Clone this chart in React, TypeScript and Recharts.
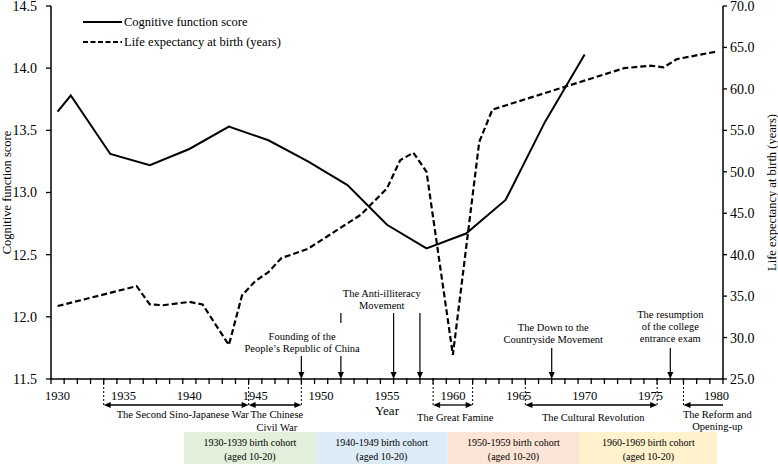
import React from 'react';
import {
  ComposedChart,
  Line,
  XAxis,
  YAxis,
  ReferenceLine,
  ReferenceDot,
  ReferenceArea,
  Legend,
} from 'recharts';

const FONT = '"Liberation Serif", "Times New Roman", Times, serif';

// ---------- data ----------
const seriesNames = ['Cognitive function score', 'Life expectancy at birth (years)'];

const cogYears = [1930, 1931, 1934, 1937, 1940, 1943, 1946, 1949, 1952, 1955, 1958, 1961, 1964, 1967, 1970];
const cogScores = [13.65, 13.78, 13.31, 13.22, 13.35, 13.53, 13.42, 13.25, 13.06, 12.74, 12.55, 12.67, 12.94, 13.57, 14.11];

const leYears = [1930, 1936, 1937, 1938, 1940, 1941, 1943, 1944, 1945, 1946, 1947, 1949, 1953, 1955, 1956, 1957, 1958, 1960, 1962, 1963, 1973, 1975, 1976, 1977, 1980];
const leValues = [33.8, 36.2, 34.0, 33.9, 34.3, 34.0, 29.1, 35.1, 36.8, 37.9, 39.6, 40.7, 44.8, 48.0, 51.4, 52.3, 50.0, 27.9, 53.6, 57.5, 62.5, 62.8, 62.6, 63.6, 64.5];

const xTickLabels = [1930, 1935, 1940, 1945, 1950, 1955, 1960, 1965, 1970, 1975, 1980];
const leftTicks = [11.5, 12.0, 12.5, 13.0, 13.5, 14.0, 14.5];
const rightTicks = [25, 30, 35, 40, 45, 50, 55, 60, 65, 70];

// historical events (arrow pointing down to the year axis)
const eventArrowYears = [1948.5, 1951.5, 1955.5, 1957.5, 1967.5, 1976.5];
const eventArrowTops = [11.685, 11.685, 12.031, 12.031, 11.749, 11.749];

const eventNotes = [
  { lines: ['Founding of the', 'People\u2019s Republic of China'], year: 1948.56, score: 11.846 },
  { lines: ['The Anti-illiteracy', 'Movement'], year: 1954.6, score: 12.192 },
  { lines: ['The Down to the', 'Countryside Movement'], year: 1967.62, score: 11.918 },
  { lines: ['The resumption', 'of the college', 'entrance exam'], year: 1976.5, score: 12.023 },
];

// historical periods (below the axis)
const periodNames = [
  ['The Second Sino-Japanese War'],
  ['The Chinese', 'Civil War'],
  ['The Great Famine'],
  ['The Cultural Revolution'],
  ['The Reform and', 'Opening-up'],
];
const periodStart = [1933.5, 1944.5, 1958.5, 1965.5, 1977.5];
const periodEnd = [1944.5, 1948.5, 1961.5, 1975.5, 1980.5];
const periodLabelYear = [1939.5, 1946.64, 1960.18, 1970.65, 1980.07];
const periodLabelScore = [11.213, 11.213, 11.194, 11.194, 11.218];
const periodTwoHeads = [true, true, true, true, false];
const dottedYears = [1933.5, 1944.5, 1948.5, 1958.5, 1961.5, 1965.5, 1975.5, 1977.5];

// birth cohorts
const cohortNames = ['1930-1939 birth cohort', '1940-1949 birth cohort', '1950-1959 birth cohort', '1960-1969 birth cohort'];
const cohortStart = [1939.6, 1949.6, 1959.6, 1969.6];
const cohortEnd = [1949.6, 1959.6, 1969.6, 1980.07];
const cohortColors = ['#E2EFDA', '#DDEBF7', '#FCE4D6', '#FFF2CC'];

const cogData = cogYears.map((year, i) => ({ year, score: cogScores[i] }));
const leData = leYears.map((year, i) => ({ year, le: leValues[i] }));

const boundaryTicks: number[] = [];
for (let i = 0; i <= 51; i++) boundaryTicks.push(1929.5 + i);
const xTicks = [...boundaryTicks, ...xTickLabels].sort((a, b) => a - b);

// annotation vertical levels (left-axis units)
const AXIS_LEVEL = 11.5;
const ARROW_ROW = 11.291;
const BOX_TOP = 11.074;
const BOX_BOTTOM = 10.8;
const BOX_TEXT = 10.989;

// ---------- drawing helpers ----------
const HEAD_LEN = 7;
const HEAD_HALF = 3;

function head(x: number, y: number, dx: number, dy: number, key: string) {
  const bx = x - dx * HEAD_LEN;
  const by = y - dy * HEAD_LEN;
  const px = -dy * HEAD_HALF;
  const py = dx * HEAD_HALF;
  return (
    <polygon
      key={key}
      points={`${x},${y} ${bx + px},${by + py} ${bx - px},${by - py}`}
      fill="#000"
    />
  );
}

const arrowShape = (startHead: boolean, endHead: boolean, width = 1.2) => (p: any) => {
  const { x1, y1, x2, y2 } = p;
  const len = Math.hypot(x2 - x1, y2 - y1) || 1;
  const dx = (x2 - x1) / len;
  const dy = (y2 - y1) / len;
  const sx = startHead ? x1 + dx * HEAD_LEN * 0.7 : x1;
  const sy = startHead ? y1 + dy * HEAD_LEN * 0.7 : y1;
  const ex = endHead ? x2 - dx * HEAD_LEN * 0.7 : x2;
  const ey = endHead ? y2 - dy * HEAD_LEN * 0.7 : y2;
  return (
    <g>
      <line x1={sx} y1={sy} x2={ex} y2={ey} stroke="#000" strokeWidth={width} />
      {startHead ? head(x1, y1, -dx, -dy, 's') : null}
      {endHead ? head(x2, y2, dx, dy, 'e') : null}
    </g>
  );
};

const plainLineShape = (width = 1.2, dash?: string) => (p: any) => (
  <line x1={p.x1} y1={p.y1} x2={p.x2} y2={p.y2} stroke="#000" strokeWidth={width} strokeDasharray={dash} />
);

const textShape = (lines: string[], size: number, lineH: number) => (p: any) => (
  <text textAnchor="middle" fontFamily={FONT} fontSize={size} fill="#000">
    {lines.map((l, i) => (
      <tspan key={i} x={p.cx} y={p.cy + i * lineH + size * 0.35}>
        {l}
      </tspan>
    ))}
  </text>
);

const renderXTick = (props: any) => {
  const { x, y, payload } = props;
  const v = payload.value as number;
  if (Math.abs(v - Math.round(v)) > 0.25) {
    return <line x1={x} x2={x} y1={y - 1} y2={y + 5} stroke="#000" strokeWidth={1.3} />;
  }
  if (xTickLabels.includes(v)) {
    return (
      <text x={x} y={y + 20.5} textAnchor="middle" fontFamily={FONT} fontSize={12.5} fill="#000">
        {v}
      </text>
    );
  }
  return <g />;
};

const renderLegend = () => (
  <svg width={220} height={40} style={{ display: 'block', overflow: 'visible' }}>
    <line x1={0} y1={8} x2={39} y2={8} stroke="#000" strokeWidth={2} />
    <text x={41} y={8 + 12.5 * 0.35} fontFamily={FONT} fontSize={12.5} fill="#000">
      {seriesNames[0]}
    </text>
    <line x1={0} y1={28} x2={39} y2={28} stroke="#000" strokeWidth={2} strokeDasharray="5 2.5" />
    <text x={41} y={28 + 12.5 * 0.35} fontFamily={FONT} fontSize={12.5} fill="#000">
      {seriesNames[1]}
    </text>
  </svg>
);

const AX = { xAxisId: 'x', yAxisId: 'left' } as const;

export default function App() {
  return (
    <div style={{ position: 'absolute', left: 0, top: 0, width: 778, height: 464, background: '#fff' }}>
      <ComposedChart width={778} height={464} margin={{ top: 6, right: 0, bottom: 0, left: 0 }}>
        <XAxis
          xAxisId="x"
          dataKey="year"
          type="number"
          domain={[1929.5, 1980.5]}
          ticks={xTicks}
          interval={0}
          tick={renderXTick}
          tickLine={false}
          tickSize={0}
          tickMargin={0}
          height={85}
          axisLine={{ stroke: '#000', strokeWidth: 1.5 }}
          label={{ value: 'Year', position: 'insideTop', offset: 27, fill: '#000', fontSize: 13, fontFamily: FONT }}
        />
        <YAxis
          yAxisId="left"
          type="number"
          domain={[11.5, 14.5]}
          ticks={leftTicks}
          interval={0}
          width={51}
          tickFormatter={(v: number) => v.toFixed(1)}
          tick={{ fill: '#000', fontSize: 14, fontFamily: FONT }}
          tickSize={5}
          tickMargin={9}
          tickLine={{ stroke: '#000', strokeWidth: 1.3 }}
          axisLine={{ stroke: '#000', strokeWidth: 1.5 }}
          label={{
            value: 'Cognitive function score',
            angle: -90,
            position: 'insideLeft',
            offset: 7,
            fill: '#000',
            fontSize: 12.5,
            fontFamily: FONT,
            style: { textAnchor: 'middle' },
          }}
        />
        <YAxis
          yAxisId="right"
          orientation="right"
          type="number"
          domain={[25, 70]}
          ticks={rightTicks}
          interval={0}
          width={55}
          tickFormatter={(v: number) => v.toFixed(1)}
          tick={{ fill: '#000', fontSize: 14, fontFamily: FONT }}
          tickSize={4}
          tickMargin={3}
          tickLine={{ stroke: '#000', strokeWidth: 1.3 }}
          axisLine={{ stroke: '#000', strokeWidth: 1.5 }}
          label={{
            value: 'Life expectancy at birth (years)',
            angle: -90,
            position: 'insideRight',
            offset: 6,
            fill: '#000',
            fontSize: 12.5,
            fontFamily: FONT,
            style: { textAnchor: 'middle' },
          }}
        />

        <Legend
          layout="horizontal"
          verticalAlign="middle"
          align="center"
          content={renderLegend}
          wrapperStyle={{ top: 14, left: 83, width: 220, height: 40 }}
        />

        {/* cohort boxes */}
        {cohortNames.map((name, i) => (
          <ReferenceArea
            key={'box' + i}
            {...AX}
            x1={cohortStart[i]}
            x2={cohortEnd[i]}
            y1={BOX_BOTTOM}
            y2={BOX_TOP}
            fill={cohortColors[i]}
            fillOpacity={1}
            stroke="none"
            ifOverflow="visible"
          />
        ))}
        {cohortNames.map((name, i) => (
          <ReferenceDot
            key={'boxt' + i}
            {...AX}
            x={(cohortStart[i] + cohortEnd[i]) / 2}
            y={BOX_TEXT}
            ifOverflow="visible"
            shape={textShape([name, '(aged 10-20)'], 10, 13.5)}
          />
        ))}

        <Line
          xAxisId="x"
          yAxisId="right"
          data={leData}
          dataKey="le"
          name={seriesNames[1]}
          type="linear"
          stroke="#000"
          strokeWidth={2.2}
          strokeDasharray="6 3"
          dot={false}
          activeDot={false}
          isAnimationActive={false}
        />
        <Line
          xAxisId="x"
          yAxisId="left"
          data={cogData}
          dataKey="score"
          name={seriesNames[0]}
          type="linear"
          stroke="#000"
          strokeWidth={2}
          dot={false}
          activeDot={false}
          isAnimationActive={false}
        />

        {/* event arrows */}
        {eventArrowYears.map((yr, i) => (
          <ReferenceLine
            key={'ea' + i}
            {...AX}
            segment={[
              { x: yr, y: eventArrowTops[i] },
              { x: yr, y: AXIS_LEVEL },
            ]}
            ifOverflow="visible"
            shape={arrowShape(false, true, 1.2)}
          />
        ))}
        <ReferenceLine
          {...AX}
          segment={[
            { x: 1951.5, y: 12.031 },
            { x: 1951.5, y: 11.95 },
          ]}
          ifOverflow="visible"
          shape={plainLineShape(1.2)}
        />
        {eventNotes.map((n, i) => (
          <ReferenceDot
            key={'en' + i}
            {...AX}
            x={n.year}
            y={n.score}
            ifOverflow="visible"
            shape={textShape(n.lines, 10.5, 12)}
          />
        ))}

        {/* dotted guides below axis */}
        {dottedYears.map((yr, i) => (
          <ReferenceLine
            key={'dl' + i}
            {...AX}
            segment={[
              { x: yr, y: AXIS_LEVEL },
              { x: yr, y: ARROW_ROW },
            ]}
            ifOverflow="visible"
            shape={plainLineShape(1, '2 2')}
          />
        ))}

        {/* period arrows */}
        {periodNames.map((_, i) => (
          <ReferenceLine
            key={'pa' + i}
            {...AX}
            segment={
              periodTwoHeads[i]
                ? [
                    { x: periodStart[i], y: ARROW_ROW },
                    { x: periodEnd[i], y: ARROW_ROW },
                  ]
                : [
                    { x: periodEnd[i], y: ARROW_ROW },
                    { x: periodStart[i], y: ARROW_ROW },
                  ]
            }
            ifOverflow="visible"
            shape={arrowShape(periodTwoHeads[i], true, 1.3)}
          />
        ))}
        {periodNames.map((lines, i) => (
          <ReferenceDot
            key={'pt' + i}
            {...AX}
            x={periodLabelYear[i]}
            y={periodLabelScore[i]}
            ifOverflow="visible"
            shape={textShape(lines, 10.5, 12.5)}
          />
        ))}
      </ComposedChart>
    </div>
  );
}
